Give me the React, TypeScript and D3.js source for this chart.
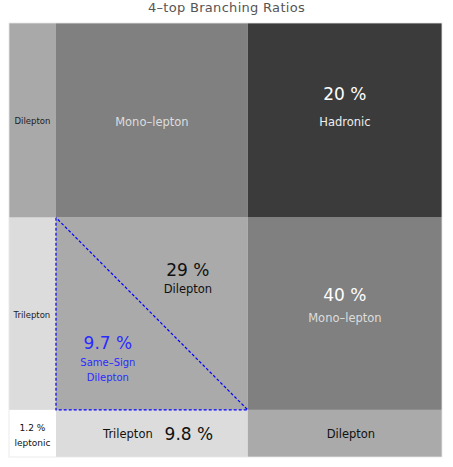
import React from "react";
import * as d3 from "d3";

// single tt-pair decay fractions
const modes = ["Dilepton", "Mono-lepton", "Hadronic"];
const modeFractions = [0.1085, 0.443, 0.4485];
const rowOrder = ["Hadronic", "Mono-lepton", "Dilepton"];

// cell fills, row by row (top to bottom), column by column (left to right)
const cellFills = [
	["#a9a9a9", "#808080", "#3b3b3b"],
	["#dcdcdc", "#aaaaaa", "#808080"],
	["#ffffff", "#dcdcdc", "#aaaaaa"],
];

const FONT = "'DejaVu Sans', sans-serif";

export default function App() {
	const width = 453,
		height = 467;
	const x0 = 9,
		x1 = 442,
		y0 = 23,
		y1 = 457;

	const frac = (m: string) => modeFractions[modes.indexOf(m)];
	const cum = (order: string[]) => {
		const out = [0];
		order.forEach((m) => out.push(out[out.length - 1] + frac(m)));
		return out;
	};
	const xc = cum(modes);
	const yc = cum(rowOrder);
	const x = d3.scaleLinear().domain([0, 1]).range([x0, x1]);
	const y = d3.scaleLinear().domain([0, 1]).range([y0, y1]);

	const cx = (i: number) => (x(xc[i]) + x(xc[i + 1])) / 2;
	const cy = (j: number) => (y(yc[j]) + y(yc[j + 1])) / 2;

	const tri = d3.line()([
		[x(xc[1]), y(yc[1])],
		[x(xc[1]), y(yc[2])],
		[x(xc[2]), y(yc[2])],
		[x(xc[1]), y(yc[1])],
	]);

	return (
		<svg
			width={width}
			height={height}
			style={{ position: "absolute", left: 0, top: 0, fontFamily: FONT }}
		>
			<rect width={width} height={height} fill="#fff" />
			<text x={width / 2} y={12} textAnchor="middle" fontSize={13} fill="#555" letterSpacing={0.3}>
				4–top Branching Ratios
			</text>

			{rowOrder.map((r, j) =>
				modes.map((c, i) => (
					<rect
						key={r + c}
						x={x(xc[i])}
						y={y(yc[j])}
						width={x(xc[i + 1]) - x(xc[i])}
						height={y(yc[j + 1]) - y(yc[j])}
						fill={cellFills[j][i]}
					/>
				))
			)}
			<rect
				x={x0}
				y={y0}
				width={x1 - x0}
				height={y1 - y0}
				fill="none"
				stroke="#e6e6e6"
				strokeWidth={0.8}
			/>

			<path d={tri ?? ""} fill="none" stroke="#0000ff" strokeWidth={1.2} strokeDasharray="3,2" />

			{/* top row */}
			<text x={cx(0)} y={cy(0) + 4} textAnchor="middle" fontSize={8.5} fill="#222">
				Dilepton
			</text>
			<text x={cx(1)} y={cy(0) + 6} textAnchor="middle" fontSize={11.5} fill="#ddd">
				Mono–lepton
			</text>
			<text x={cx(2)} y={cy(0) - 20} textAnchor="middle" fontSize={17} fill="#fff">
				20 %
			</text>
			<text x={cx(2)} y={cy(0) + 6} textAnchor="middle" fontSize={11.5} fill="#eee">
				Hadronic
			</text>

			{/* middle row */}
			<text x={cx(1) - 120} y={cy(1) + 4} textAnchor="middle" fontSize={8.5} fill="#222">
				Trilepton
			</text>
			<text x={cx(1) + 36} y={cy(1) - 38} textAnchor="middle" fontSize={17} fill="#111">
				29 %
			</text>
			<text x={cx(1) + 36} y={cy(1) - 21} textAnchor="middle" fontSize={11.5} fill="#111">
				Dilepton
			</text>
			<text x={cx(1) - 44} y={cy(1) + 35} textAnchor="middle" fontSize={17} fill="#2a2aff">
				9.7 %
			</text>
			<text x={cx(1) - 44} y={cy(1) + 52} textAnchor="middle" fontSize={10} fill="#2a2aff">
				Same–Sign
			</text>
			<text x={cx(1) - 44} y={cy(1) + 67} textAnchor="middle" fontSize={10} fill="#2a2aff">
				Dilepton
			</text>
			<text x={cx(2)} y={cy(1) - 13} textAnchor="middle" fontSize={17} fill="#fff">
				40 %
			</text>
			<text x={cx(2)} y={cy(1) + 8} textAnchor="middle" fontSize={11.5} fill="#ddd">
				Mono–lepton
			</text>

			{/* bottom row */}
			<text x={cx(0)} y={cy(2) - 2} textAnchor="middle" fontSize={9} fill="#111">
				1.2 %
			</text>
			<text x={cx(0)} y={cy(2) + 13} textAnchor="middle" fontSize={9} fill="#111">
				leptonic
			</text>
			<text x={cx(1) - 24} y={cy(2) + 5} textAnchor="middle" fontSize={11.5} fill="#111">
				Trilepton
			</text>
			<text x={cx(1) + 37} y={cy(2) + 7} textAnchor="middle" fontSize={17} fill="#111">
				9.8 %
			</text>
			<text x={cx(2) + 6} y={cy(2) + 5} textAnchor="middle" fontSize={11.5} fill="#111">
				Dilepton
			</text>
		</svg>
	);
}
